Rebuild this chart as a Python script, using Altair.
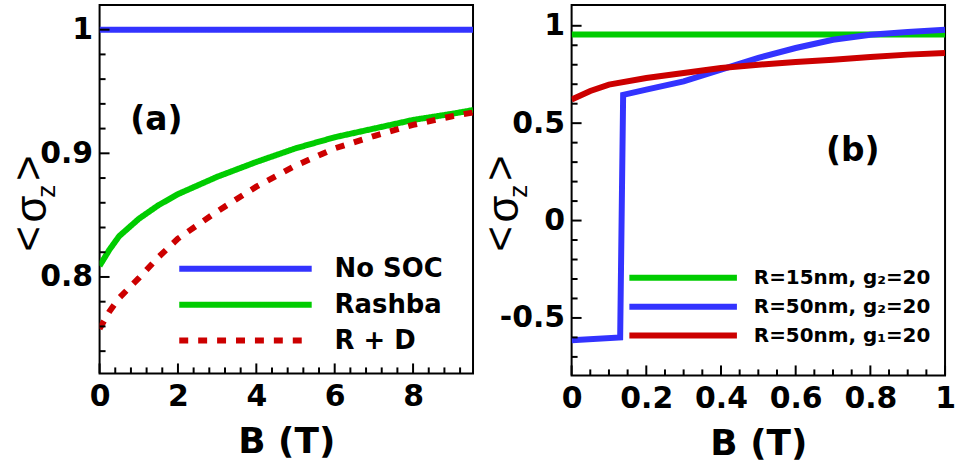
import altair as alt
import pandas as pd

# ---------------- data ----------------
# panel (a)
B_a = [0, 0.25, 0.5, 1, 1.5, 2, 3, 4, 5, 6, 7, 8, 9, 9.53]
no_soc = [1.0, 1.0, 1.0, 1.0, 1.0, 1.0, 1.0, 1.0, 1.0, 1.0, 1.0, 1.0, 1.0, 1.0]
rashba = [0.809, 0.822, 0.833, 0.847, 0.858, 0.867, 0.881, 0.893, 0.904, 0.913, 0.920, 0.927, 0.932, 0.935]
r_plus_d = [0.758, 0.772, 0.783, 0.799, 0.816, 0.831, 0.853, 0.873, 0.890, 0.904, 0.914, 0.923, 0.930, 0.933]
series_a = ["No SOC", "Rashba", "R + D"]

# panel (b)
B_b_green = [0, 1.0]
green_b = [0.955, 0.955]
B_b_blue = [0, 0.13, 0.138, 0.2, 0.3, 0.4, 0.5, 0.6, 0.7, 0.8, 0.9, 1.0]
blue_b = [-0.615, -0.60, 0.645, 0.672, 0.715, 0.775, 0.835, 0.886, 0.928, 0.954, 0.968, 0.98]
B_b_red = [0, 0.05, 0.1, 0.2, 0.3, 0.4, 0.5, 0.6, 0.7, 0.8, 0.9, 1.0]
red_b = [0.621, 0.665, 0.698, 0.732, 0.758, 0.783, 0.800, 0.814, 0.826, 0.840, 0.852, 0.860]
series_b = ["R=15nm, g\u2082=20", "R=50nm, g\u2082=20", "R=50nm, g\u2081=20"]

# axes
xdom_a = [0, 9.53]
ydom_a = [0.722, 1.02]
xmajor_a = [0, 2, 4, 6, 8]
xminor_a = [0.4, 0.8, 1.2, 1.6, 2.4, 2.8, 3.2, 3.6, 4.4, 4.8, 5.2, 5.6, 6.4, 6.8, 7.2, 7.6, 8.4, 8.8, 9.2]
ymajor_a = [0.8, 0.9, 1.0]
yminor_a = [0.74, 0.76, 0.78, 0.82, 0.84, 0.86, 0.88, 0.92, 0.94, 0.96, 0.98]

xdom_b = [0, 1]
ydom_b = [-0.795, 1.107]
xmajor_b = [0, 0.2, 0.4, 0.6, 0.8, 1.0]
xminor_b = [0.05, 0.1, 0.15, 0.25, 0.3, 0.35, 0.45, 0.5, 0.55, 0.65, 0.7, 0.75, 0.85, 0.9, 0.95]
ymajor_b = [-0.5, 0, 0.5, 1.0]
yminor_b = [-0.7, -0.6, -0.4, -0.3, -0.2, -0.1, 0.1, 0.2, 0.3, 0.4, 0.6, 0.7, 0.8, 0.9]

# ---------------- style ----------------
FONT = "DejaVu Sans"
BLUE, GREEN, RED = "#3333ff", "#00cc00", "#cc0000"
W = 375


def xaxis(vals):
    return alt.Axis(values=vals, labelExpr="toString(datum.value)", labelFont=FONT, labelFontSize=30,
                    labelFontWeight="bold", labelColor="black", labelPadding=8, labelFlush=False,
                    domain=False, ticks=False, grid=False, title="B (T)", titleFont=FONT, titleFontSize=36,
                    titleFontWeight="bold", titleColor="black", titlePadding=13, orient="bottom")


def yaxis(vals):
    return alt.Axis(values=vals, labelExpr="toString(datum.value)", labelFont=FONT, labelFontSize=30,
                    labelFontWeight="bold", labelColor="black", labelPadding=7, labelFlush=False,
                    domain=False, ticks=False, grid=False, title="", orient="left")


def ticks(xmaj, xmin, ymaj, ymin, xs, ys, H):
    # inward tick marks drawn from the tick-value lists through the panel scales
    out = []
    for vals, ln in ((ymaj, 10), (ymin, 6)):
        out.append(alt.Chart(pd.DataFrame({"v": vals})).mark_rule(color="black", strokeWidth=2).encode(
            y=alt.Y("v:Q", scale=ys, axis=None), x=alt.value(0), x2=alt.value(ln)))
    for vals, ln in ((xmaj, 10), (xmin, 6)):
        out.append(alt.Chart(pd.DataFrame({"v": vals})).mark_rule(color="black", strokeWidth=2).encode(
            x=alt.X("v:Q", scale=xs, axis=None), y=alt.value(H), y2=alt.value(H - ln)))
    return out


def ytitle():
    parts = []
    for txt, dx, dy, size in (("<", -70, 235, 44), ("\u03c3", -67, 205, 44), ("z", -53, 187, 26), (">", -70, 164, 44)):
        parts.append(alt.Chart(pd.DataFrame({"t": [txt]})).mark_text(
            font="Liberation Sans", fontSize=size, angle=270, align="center", baseline="middle", color="black"
        ).encode(text="t:N", x=alt.value(dx), y=alt.value(dy)))
    return parts


# ---------------- panel (a) ----------------
n = len(B_a)
df_a = pd.DataFrame({
    "B": B_a * 3,
    "s": no_soc + rashba + r_plus_d,
    "series": [series_a[0]] * n + [series_a[1]] * n + [series_a[2]] * n,
})
xs_a = alt.Scale(domain=xdom_a, nice=False, zero=False)
ys_a = alt.Scale(domain=ydom_a, nice=False, zero=False)
H_a = 370

leg_a = dict(title=None, orient="none", legendX=77, legendY=250,
             symbolType="stroke", symbolSize=17689, symbolStrokeWidth=6,
             clipHeight=30, rowPadding=6, labelOffset=20, padding=0,
             labelFont=FONT, labelFontSize=26, labelFontWeight="bold",
             labelColor="black", labelLimit=400)

lines_a = alt.Chart(df_a).mark_line(strokeWidth=6, clip=True).encode(
    x=alt.X("B:Q", scale=xs_a, axis=xaxis(xmajor_a)),
    y=alt.Y("s:Q", scale=ys_a, axis=yaxis(ymajor_a)),
    color=alt.Color("series:N", scale=alt.Scale(domain=series_a, range=[BLUE, GREEN, RED]),
                    legend=alt.Legend(**leg_a)),
    strokeDash=alt.StrokeDash("series:N", scale=alt.Scale(domain=series_a, range=[[1, 0], [1, 0], [9, 10]]),
                              legend=alt.Legend(**leg_a)),
    order=alt.Order("B:Q"),
)

lab_a = alt.Chart(pd.DataFrame({"B": [1.45], "s": [0.927], "t": ["(a)"]})).mark_text(
    font=FONT, fontSize=33, fontWeight="bold", color="black").encode(
    x=alt.X("B:Q", scale=xs_a, axis=None), y=alt.Y("s:Q", scale=ys_a, axis=None), text="t:N")

panel_a = alt.layer(lines_a, *ticks(xmajor_a, xminor_a, ymajor_a, yminor_a, xs_a, ys_a, H_a), lab_a, *ytitle()) \
    .resolve_axis(x="independent", y="independent").properties(width=W, height=H_a)

# ---------------- panel (b) ----------------
df_b = pd.DataFrame({
    "B": B_b_green + B_b_blue + B_b_red,
    "s": green_b + blue_b + red_b,
    "series": [series_b[0]] * len(B_b_green) + [series_b[1]] * len(B_b_blue) + [series_b[2]] * len(B_b_red),
})
xs_b = alt.Scale(domain=xdom_b, nice=False, zero=False)
ys_b = alt.Scale(domain=ydom_b, nice=False, zero=False)
H_b = 372

lines_b = alt.Chart(df_b).mark_line(strokeWidth=6, clip=True).encode(
    x=alt.X("B:Q", scale=xs_b, axis=xaxis(xmajor_b)),
    y=alt.Y("s:Q", scale=ys_b, axis=yaxis(ymajor_b)),
    color=alt.Color("series:N", scale=alt.Scale(domain=series_b, range=[GREEN, BLUE, RED]),
                    legend=alt.Legend(title=None, orient="none", legendX=55, legendY=262,
                                      symbolType="stroke", symbolSize=11664, symbolStrokeWidth=6,
                                      clipHeight=24, rowPadding=5, labelOffset=14, padding=0,
                                      labelFont=FONT, labelFontSize=20, labelFontWeight="bold",
                                      labelColor="black", labelLimit=400)),
    order=alt.Order("B:Q"),
)

lab_b = alt.Chart(pd.DataFrame({"B": [0.753], "s": [0.355], "t": ["(b)"]})).mark_text(
    font=FONT, fontSize=33, fontWeight="bold", color="black").encode(
    x=alt.X("B:Q", scale=xs_b, axis=None), y=alt.Y("s:Q", scale=ys_b, axis=None), text="t:N")

panel_b = alt.layer(lines_b, *ticks(xmajor_b, xminor_b, ymajor_b, yminor_b, xs_b, ys_b, H_b), lab_b, *ytitle()) \
    .resolve_axis(x="independent", y="independent").properties(width=W, height=H_b)

chart = alt.hconcat(panel_a, panel_b, spacing=5).resolve_scale(color="independent", strokeDash="independent") \
    .configure_view(stroke="black", strokeWidth=2) \
    .properties(padding={"left": 7, "top": 3, "right": 0, "bottom": 0}, background="white")

chart.save("out.html", embed_options={"renderer": "svg", "actions": False})
